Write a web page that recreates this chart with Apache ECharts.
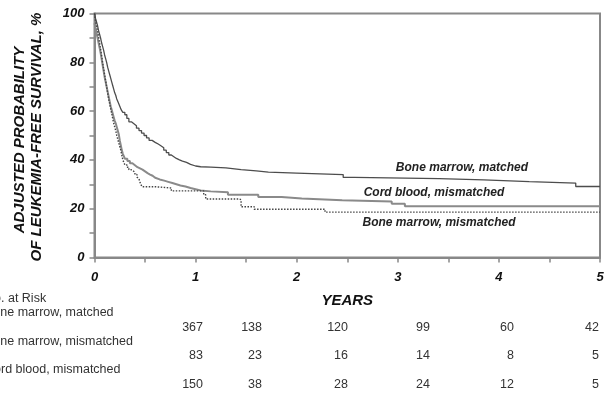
<!DOCTYPE html>
<html>
<head>
<meta charset="utf-8">
<script src="https://cdn.jsdelivr.net/npm/echarts@6/dist/echarts.min.js"></script>
<style>
  html, body { margin: 0; padding: 0; background: #fff; }
  #chart { width: 609px; height: 397px; }
</style>
</head>
<body>
<div id="chart"></div>
<script>
// curves: [years, adjusted probability %]
var bmMatched = [
  [0, 100], [0.01, 98], [0.02, 96.5], [0.03, 95], [0.04, 93], [0.05, 91.5],
  [0.06, 90], [0.07, 88], [0.08, 86.5], [0.09, 85], [0.10, 83], [0.11, 81.5],
  [0.12, 80], [0.13, 78], [0.14, 76.5], [0.15, 75], [0.16, 73.5], [0.17, 72],
  [0.18, 70.5], [0.19, 69], [0.20, 67.5], [0.21, 66.5], [0.22, 65], [0.235, 63.5],
  [0.25, 62], [0.265, 60.5], [0.28, 59.5], [0.30, 58.5], [0.32, 57], [0.34, 55.6],
  [0.365, 54.8], [0.39, 54], [0.415, 53], [0.44, 52], [0.465, 51], [0.49, 50],
  [0.515, 49], [0.54, 48], [0.57, 47.2], [0.60, 46.5], [0.63, 45.7], [0.66, 45],
  [0.685, 44], [0.71, 43], [0.735, 42], [0.76, 41.3], [0.785, 40.6], [0.81, 40],
  [0.84, 39.5], [0.87, 39], [0.91, 38.2], [0.95, 37.5], [1.00, 37.2], [1.05, 37],
  [1.15, 36.7], [1.30, 36], [1.45, 35.5], [1.60, 35], [1.72, 34.6], [2.00, 34],
  [2.46, 32.8], [2.57, 32.3], [3.41, 31.8], [3.85, 31.1], [4.30, 30.5], [4.76, 29.1],
  [5.00, 29.1]
]
var cordMismatched = [
  [0, 96], [0.01, 94], [0.02, 92], [0.03, 90], [0.04, 88], [0.05, 86],
  [0.06, 84], [0.07, 81.5], [0.08, 79], [0.09, 76.5], [0.10, 74], [0.11, 72],
  [0.12, 70], [0.13, 68], [0.14, 66], [0.15, 64], [0.16, 62], [0.17, 60.5],
  [0.18, 59], [0.19, 57.5], [0.20, 56], [0.21, 55], [0.22, 53.5], [0.23, 52],
  [0.24, 50.5], [0.25, 48], [0.26, 46], [0.27, 44], [0.28, 42.5], [0.29, 41.5],
  [0.30, 40.5], [0.325, 39.5], [0.35, 38.6], [0.375, 37.8], [0.40, 37], [0.425, 36.5],
  [0.45, 36], [0.475, 35.3], [0.50, 34.6], [0.525, 34], [0.55, 33.5], [0.575, 32.7],
  [0.60, 32], [0.645, 31.5], [0.69, 31], [0.73, 30.5], [0.77, 30], [0.81, 29.5],
  [0.85, 29.1], [0.90, 28.5], [0.95, 28], [1.00, 27.5], [1.05, 27.1], [1.15, 26.7],
  [1.32, 25.7], [1.62, 24.8], [1.85, 24.2], [2.05, 23.5], [2.45, 23], [2.94, 22],
  [3.07, 21], [5.00, 21]
]
var bmMismatched = [
  [0, 100], [0.01, 97], [0.02, 95], [0.03, 93], [0.04, 90.5], [0.05, 88],
  [0.06, 85.5], [0.07, 83], [0.08, 80], [0.09, 77.5], [0.10, 75], [0.11, 72.5],
  [0.12, 70], [0.13, 67.5], [0.14, 65], [0.15, 63], [0.16, 61], [0.17, 59],
  [0.18, 57], [0.19, 55], [0.20, 53.5], [0.21, 52], [0.22, 50], [0.23, 48.5],
  [0.24, 47], [0.25, 45.5], [0.26, 44], [0.27, 42], [0.28, 40], [0.29, 39],
  [0.30, 38], [0.32, 37], [0.34, 36], [0.36, 35.5], [0.38, 35], [0.40, 34],
  [0.42, 33], [0.43, 32.2], [0.44, 31.5], [0.455, 30.2], [0.47, 29], [0.60, 28.5],
  [0.76, 27.3], [1.08, 25.7], [1.10, 24], [1.43, 23.7], [1.45, 20.8], [1.58, 19.8],
  [2.28, 18.6], [5.00, 18.6]
]

// number at risk
var riskGroups = ['Bone marrow, matched', 'Bone marrow, mismatched', 'Cord blood, mismatched']
var riskBMMatched = [367, 138, 120, 99, 60, 42]
var riskBMMismatched = [83, 23, 16, 14, 8, 5]
var riskCordMismatched = [150, 38, 28, 24, 12, 5]

// layout of the risk table (px)
var riskColRight = [203, 262, 348, 430, 514, 599]
var riskRowY = [313, 341.5, 370]

var font = '"Liberation Sans", Arial, sans-serif'
var axisColor = '#888'

var chart = echarts.init(document.getElementById('chart'))

var graphics = []
// y axis title, two rotated lines
graphics.push({
  type: 'text', x: 20, y: 140, rotation: Math.PI / 2,
  style: { text: 'ADJUSTED PROBABILITY', font: 'italic bold 15px ' + font, fill: '#111', align: 'center', verticalAlign: 'middle' }
})
graphics.push({
  type: 'text', x: 37, y: 137, rotation: Math.PI / 2,
  style: { text: 'OF LEUKEMIA-FREE SURVIVAL, %', font: 'italic bold 15px ' + font, fill: '#111', align: 'center', verticalAlign: 'middle' }
})
// curve labels
var curveLabels = [
  { text: 'Bone marrow, matched', x: 462, y: 168 },
  { text: 'Cord blood, mismatched', x: 434, y: 193 },
  { text: 'Bone marrow, mismatched', x: 439, y: 223 }
]
curveLabels.forEach(function (l) {
  graphics.push({
    type: 'text', x: l.x, y: l.y,
    style: { text: l.text, font: 'italic bold 12px ' + font, fill: '#222', align: 'center', verticalAlign: 'middle' }
  })
})
// risk table
graphics.push({
  type: 'text', x: -15, y: 298.5,
  style: { text: 'No. at Risk', font: '12.5px ' + font, fill: '#333', verticalAlign: 'middle' }
})
var riskRows = [riskBMMatched, riskBMMismatched, riskCordMismatched]
riskRows.forEach(function (row, i) {
  graphics.push({
    type: 'text', x: -15, y: riskRowY[i],
    style: { text: riskGroups[i], font: '12.5px ' + font, fill: '#333', verticalAlign: 'middle' }
  })
  row.forEach(function (v, j) {
    graphics.push({
      type: 'text', x: riskColRight[j], y: riskRowY[i] + 14.5,
      style: { text: String(v), font: '12.5px ' + font, fill: '#333', align: 'right', verticalAlign: 'middle' }
    })
  })
})

chart.setOption({
  animation: false,
  backgroundColor: '#fff',
  grid: {
    left: 94.5,
    right: 9,
    top: 13.5,
    bottom: 139.5,
    show: true,
    borderColor: axisColor,
    borderWidth: 2
  },
  xAxis: {
    type: 'value',
    min: 0,
    max: 5,
    interval: 1,
    name: 'YEARS',
    nameLocation: 'middle',
    nameGap: 36,
    nameTextStyle: { fontFamily: font, fontSize: 15, fontWeight: 'bold', fontStyle: 'italic', color: '#111' },
    axisLine: { lineStyle: { color: axisColor, width: 2 } },
    axisTick: { show: true, length: 5, lineStyle: { color: axisColor, width: 1.5 } },
    minorTick: { show: true, splitNumber: 2, length: 5, lineStyle: { color: axisColor, width: 1.5 } },
    splitLine: { show: false },
    axisLabel: { margin: 13, fontFamily: font, fontSize: 13, fontWeight: 'bold', fontStyle: 'italic', color: '#111' }
  },
  yAxis: {
    type: 'value',
    min: 0,
    max: 100,
    interval: 20,
    axisLine: { show: true, lineStyle: { color: axisColor, width: 2 } },
    axisTick: { show: true, length: 5, lineStyle: { color: axisColor, width: 1.5 } },
    minorTick: { show: true, splitNumber: 2, length: 5, lineStyle: { color: axisColor, width: 1.5 } },
    splitLine: { show: false },
    axisLabel: { margin: 10, fontFamily: font, fontSize: 13, fontWeight: 'bold', fontStyle: 'italic', color: '#111' }
  },
  series: [{
    name: 'Bone marrow, matched',
    type: 'line',
    step: 'end',
    symbol: 'none',
    data: bmMatched,
    lineStyle: { color: '#4d4d4d', width: 1.3 }
  }, {
    name: 'Cord blood, mismatched',
    type: 'line',
    step: 'end',
    symbol: 'none',
    data: cordMismatched,
    lineStyle: { color: '#8a8a8a', width: 2 }
  }, {
    name: 'Bone marrow, mismatched',
    type: 'line',
    step: 'end',
    symbol: 'none',
    data: bmMismatched,
    lineStyle: { color: '#444', width: 1.4, type: [1.5, 1.5] }
  }],
  graphic: graphics
})
</script>
</body>
</html>
